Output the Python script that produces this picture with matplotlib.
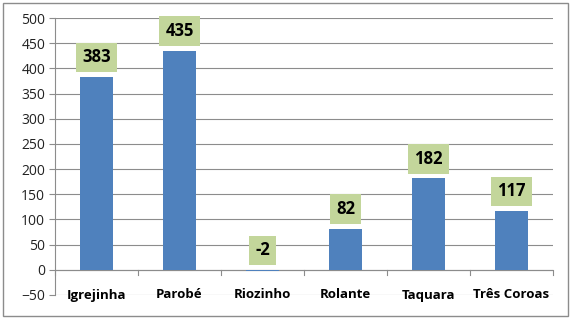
import numpy as np
import matplotlib.pyplot as plt
from matplotlib.patches import Rectangle

cities = ['Igrejinha', 'Parobé', 'Riozinho', 'Rolante', 'Taquara', 'Três Coroas']
values = [383, 435, -2, 82, 182, 117]

plt.rcParams['font.family'] = ['Open Sans', 'DejaVu Sans']

fig = plt.figure(figsize=(5.72, 3.2), dpi=100)
ax = fig.add_axes([55/572, 1-295/320, 498/572, 277/320])

x = np.arange(len(cities))
ax.bar(x, values, width=0.4, color='#4F81BD', zorder=3)

ax.set_xlim(-0.5, len(cities)-0.5)
ax.set_ylim(-50, 500)
ax.set_yticks(np.arange(-50, 501, 50))
ax.yaxis.grid(True, color='#8C8C8C', linewidth=0.8, zorder=0)
ax.tick_params(axis='y', labelsize=10, length=4, width=0.8, pad=3,
               colors='#8C8C8C', labelcolor='#222222')
ax.set_xticks([])
for s in ['top', 'right', 'bottom']:
    ax.spines[s].set_visible(False)
ax.spines['left'].set_color('#8C8C8C')
ax.spines['left'].set_linewidth(0.8)

# category axis at zero with boundary ticks
ax.axhline(0, color='#8C8C8C', linewidth=0.8, zorder=2)
for b in np.arange(-0.5, len(cities), 1.0):
    ax.plot([b, b], [0, -10], color='#8C8C8C', linewidth=0.8, zorder=2, clip_on=False)

for i, c in enumerate(cities):
    ax.text(i, -50, c, ha='center', va='center', fontsize=9.5, fontweight='bold', color='black')

for i, v in enumerate(values):
    ax.annotate(str(v), (i, max(v, 0)), xytext=(0, 14), textcoords='offset points',
                ha='center', va='center', fontsize=12, fontweight='bold',
                bbox=dict(boxstyle='square,pad=0.35', fc='#C3D69B', ec='none'), zorder=4)

fig.patches.append(Rectangle((3/572, 4/320), 565/572, 313/320, transform=fig.transFigure,
                             fill=False, edgecolor='#8C8C8C', linewidth=1))

fig.savefig('out.png', dpi=100)
